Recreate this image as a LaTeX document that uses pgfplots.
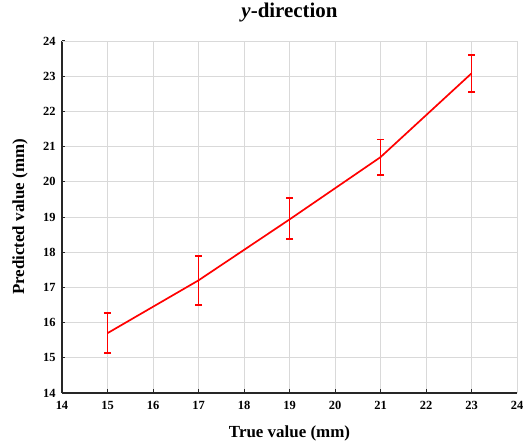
\documentclass[border=0pt]{standalone}
\usepackage{fontspec}
\setmainfont{Liberation Serif}
\usepackage{pgfplots}
\pgfplotsset{compat=1.18}

\pgfplotstableread{
x     y      ep    em
15    15.70  0.58  0.57
17    17.20  0.70  0.70
19    18.93  0.60  0.56
21    20.70  0.50  0.50
23    23.08  0.52  0.52
}\ydir

\begin{document}
\begin{tikzpicture}
\begin{axis}[
  name=ax,
  scale only axis,
  width=455bp, height=352bp,
  xmin=14, xmax=24, ymin=14, ymax=24,
  xtick={14,15,...,24}, ytick={14,15,...,24},
  xticklabels={14,15,16,17,18,19,20,21,22,23,24},
  yticklabels={14,15,16,17,18,19,20,21,22,23,24},
  axis x line*=bottom, axis y line*=left,
  axis line style={black!85, line width=1.4pt},
  tick align=inside,
  major tick length=3.5bp,
  tick style={black!85, line width=1pt},
  grid=major,
  major grid style={gray!30, line width=0.9pt},
  ticklabel style={font=\fontsize{12.5}{12.5}\selectfont\bfseries},
  xticklabel style={yshift=-5bp},
  yticklabel style={xshift=-3bp},
  xlabel={\fontsize{17}{17}\selectfont\bfseries True value (mm)},
  ylabel={\fontsize{17}{17}\selectfont\bfseries Predicted value (mm)},
  title={\fontsize{21}{21}\selectfont\bfseries\textit{y}-direction},
  title style={at={(axis description cs:0.5,1.0653)}, anchor=center},
  xlabel style={at={(axis description cs:0.5,-0.1136)}, anchor=center},
  ylabel style={at={(axis description cs:-0.0923,0.5)}, anchor=center},
  clip=false,
]
% outer frame on the top and right sides
\draw[gray!30, line width=0.9pt] (axis cs:14,24) -- (axis cs:24,24) -- (axis cs:24,14);
\addplot[red, line width=1.7pt, mark=none,
  error bars/.cd, y dir=both, y explicit,
  error bar style={line width=1.7pt},
  error mark options={rotate=90, mark size=3.5bp, line width=1.7pt}]
  table[x=x, y=y, y error plus=ep, y error minus=em] {\ydir};
\end{axis}
\pgfresetboundingbox
\path ([xshift=-62bp,yshift=-50bp]ax.south west) rectangle ([xshift=13bp,yshift=41bp]ax.north east);
\end{tikzpicture}
\end{document}
